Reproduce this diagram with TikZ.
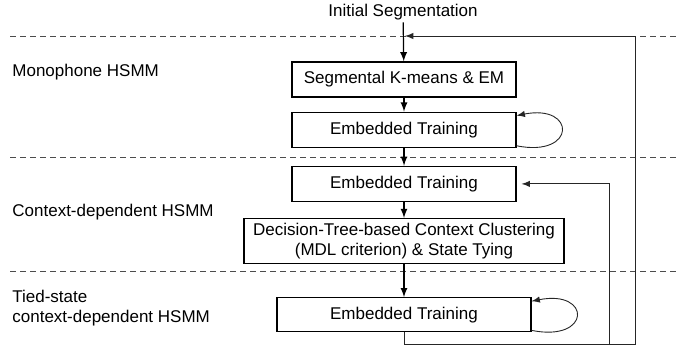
\documentclass[tikz,border=0pt]{standalone}
\usepackage{fontspec}
\setmainfont{Liberation Sans}
\usetikzlibrary{arrows, positioning}

\tikzset{
	stage/.style={draw, line width=0.6pt, minimum width=112pt, minimum height=17.5pt, inner sep=1pt, align=center},
	layer/.style={draw=black!70, line width=0.45pt, dash pattern=on 3pt off 2pt},
	flow/.style={-latex, line width=0.6pt},
	back/.style={-latex, line width=0.45pt, black!85},
	tag/.style={anchor=west, align=left, inner sep=0pt}
}

\begin{document}
\begin{tikzpicture}[x=0.5pt, y=-0.5pt, font=\fontsize{8.5}{10}\selectfont]
		\useasboundingbox (0,0) rectangle (688,347);
		% layer borders
		\draw[layer] (10,36) -- (678,36);
		\draw[layer] (10,157) -- (678,157);
		\draw[layer] (10,271) -- (678,271);
		% model names
		\node[tag] (mono) at (12,72) {Monophone HSMM};
		\node[tag] (ctx) at (12,212) {Context-dependent HSMM};
		\node[tag] (tied) at (12,308) {Tied-state\\context-dependent HSMM};
		% training steps
		\node[inner sep=1pt] (init) at (403,12) {Initial Segmentation};
		\node[stage] (seg) at (404,79.5) {Segmental K-means \& EM};
		\node[stage, below=7pt of seg] (emb1) {Embedded Training};
		\node[stage, below=9pt of emb1] (emb2) {Embedded Training};
		\node[stage, below=8pt of emb2, minimum width=160pt, minimum height=22.5pt, inner sep=0pt] (dtc)
			{Decision-Tree-based Context Clustering\\(MDL criterion) \& State Tying};
		\node[stage, below=16.5pt of dtc, minimum width=127pt, minimum height=17pt] (emb3) {Embedded Training};
		\draw[flow] (init) -- (seg);
		\draw[flow] (seg) -- (emb1);
		\draw[flow] (emb1) -- (emb2);
		\draw[flow] (emb2) -- (dtc);
		\draw[flow] (dtc) -- (emb3);
		% iterations
		\draw[back] ([yshift=1pt]emb1.south east) .. controls +(30pt,-6pt) and +(30pt,6pt) .. ([yshift=-2pt]emb1.north east);
		\draw[back] ([yshift=1pt]emb3.south east) .. controls +(30pt,-6pt) and +(30pt,6pt) .. ([yshift=-2pt]emb3.north east);
		% feedback
		\coordinate (join) at (405,36);
		\coordinate (outer) at (635,344);
		\coordinate (inner) at (609,344);
		\draw[back] (emb3.south) |- (outer) |- (join);
		\draw[back] (inner) |- ([xshift=2.5pt]emb2.east);
	\end{tikzpicture}
\end{document}
